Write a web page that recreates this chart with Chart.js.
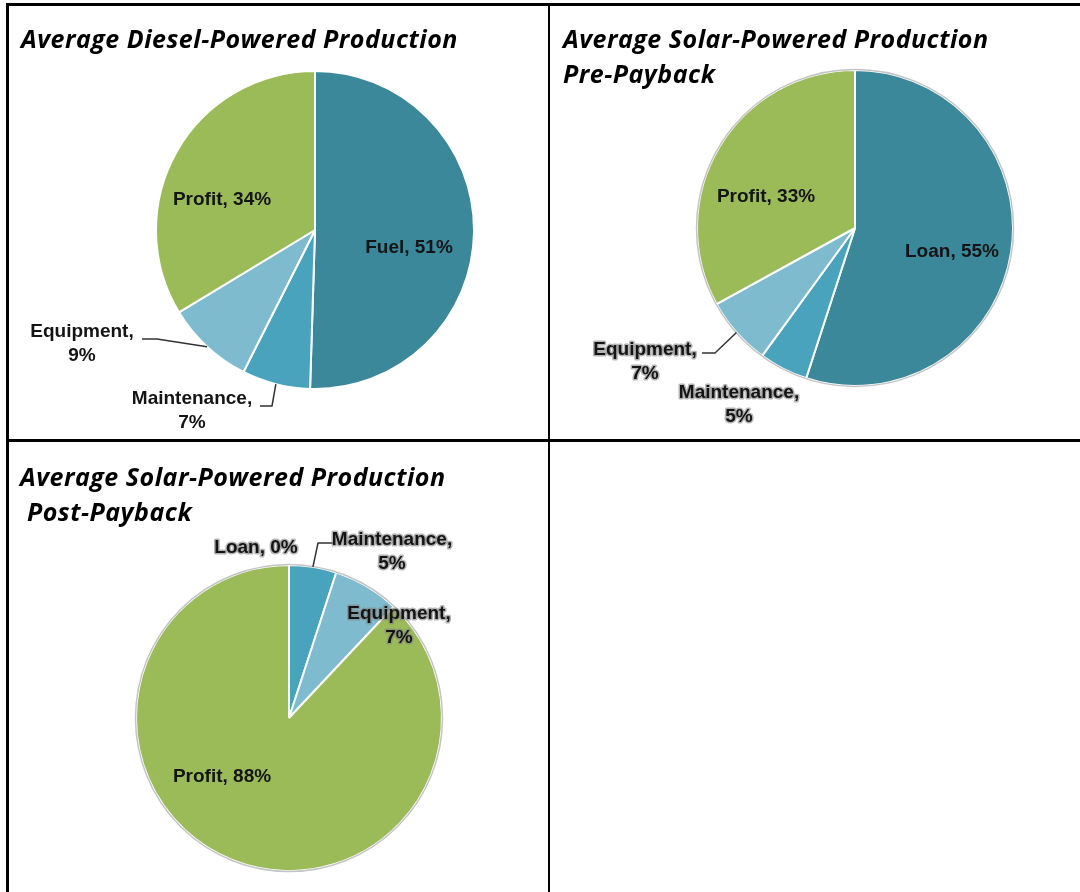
<!DOCTYPE html>
<html>
<head>
<meta charset="utf-8">
<script src="https://cdn.jsdelivr.net/npm/chart.js@4.4.1/dist/chart.umd.min.js"></script>
<style>
  html, body { margin: 0; padding: 0; background: #fff; }
  #page { position: relative; width: 1080px; height: 892px; overflow: hidden; background: #fff; }
  .rule { position: absolute; background: #000; }
  .cell { position: absolute; }
  .cell canvas { position: absolute; left: 0; top: 0; }
  .title {
    position: absolute; z-index: 2; white-space: pre; color: #000;
    font-family: "Open Sans", Lato, sans-serif; font-weight: 700; font-style: italic;
    font-size: 25px; line-height: 35px; letter-spacing: 0.5px;
  }
</style>
</head>
<body>
<div id="page">
  <div class="cell" style="left:9px;top:6px"><canvas id="dieselPie" width="539" height="433"></canvas></div>
  <div class="cell" style="left:551px;top:6px"><canvas id="prePie" width="529" height="433"></canvas></div>
  <div class="cell" style="left:9px;top:442px"><canvas id="postPie" width="539" height="450"></canvas></div>

  <div class="title" style="left:21px;top:21px">Average Diesel-Powered Production</div>
  <div class="title" style="left:563px;top:21px">Average Solar-Powered Production
Pre-Payback</div>
  <div class="title" style="left:20px;top:459px">Average Solar-Powered Production
 Post-Payback</div>

  <!-- table rules -->
  <div class="rule" style="left:6px;top:3px;width:1074px;height:3px"></div>
  <div class="rule" style="left:6px;top:3px;width:3px;height:889px"></div>
  <div class="rule" style="left:548px;top:3px;width:2px;height:889px"></div>
  <div class="rule" style="left:6px;top:439px;width:1074px;height:3px"></div>
</div>

<script>
// Данные трёх диаграмм (доли, %)
const dieselNames = ['Fuel', 'Maintenance', 'Equipment', 'Profit'];
const dieselShares = [51, 7, 9, 34];

const preNames = ['Loan', 'Maintenance', 'Equipment', 'Profit'];
const preShares = [55, 5, 7, 33];

const postNames = ['Loan', 'Maintenance', 'Equipment', 'Profit'];
const postShares = [0, 5, 7, 88];

const sliceColors = {
  Fuel: '#3b889b',
  Loan: '#3b889b',
  Maintenance: '#4aa3bc',
  Equipment: '#7fbbce',
  Profit: '#9bbb59',
};

// где стоят подписи: смещение от центра круга, px; leader — изгиб выноски
const dieselPlaces = [
  { dx: 94, dy: 18 },
  { dx: -123, dy: 181, wrap: true, leader: [[-55, 176], [-43, 176]] },
  { dx: -233, dy: 114, wrap: true, leader: [[-173, 109], [-158, 109]] },
  { dx: -93, dy: -30 },
];
const prePlaces = [
  { dx: 97, dy: 24 },
  { dx: -116, dy: 177, wrap: true, halo: true },
  { dx: -210, dy: 134, wrap: true, halo: true, leader: [[-153, 125], [-140, 125]] },
  { dx: -89, dy: -31 },
];
const postPlaces = [
  { dx: -33, dy: -170, halo: true },
  { dx: 103, dy: -166, wrap: true, halo: true, leader: [[44, -175], [29, -175]] },
  { dx: 110, dy: -92, wrap: true, halo: true },
  { dx: -67, dy: 59 },
];

function sliceLabelPlugin(names, shares, places, outline) {
  return {
    id: 'sliceLabels',
    afterDatasetsDraw(chart) {
      const ctx = chart.ctx;
      const arcs = chart.getDatasetMeta(0).data;
      ctx.save();

      if (outline) {
        const a = arcs[0].getProps(['x', 'y', 'outerRadius'], true);
        ctx.beginPath();
        ctx.arc(a.x, a.y, a.outerRadius + 0.5, 0, Math.PI * 2);
        ctx.strokeStyle = outline;
        ctx.lineWidth = 1.5;
        ctx.stroke();
      }

      ctx.font = 'bold 19px "Liberation Sans", Arial, sans-serif';
      ctx.textAlign = 'center';
      ctx.textBaseline = 'middle';
      ctx.lineJoin = 'round';

      arcs.forEach((arc, i) => {
        const p = places[i];
        const { x, y, startAngle, endAngle, outerRadius } =
          arc.getProps(['x', 'y', 'startAngle', 'endAngle', 'outerRadius'], true);
        const mid = (startAngle + endAngle) / 2;

        if (p.leader) {
          ctx.beginPath();
          ctx.moveTo(x + p.leader[0][0], y + p.leader[0][1]);
          p.leader.slice(1).forEach(pt => ctx.lineTo(x + pt[0], y + pt[1]));
          ctx.lineTo(x + Math.cos(mid) * outerRadius, y + Math.sin(mid) * outerRadius);
          ctx.strokeStyle = '#333';
          ctx.lineWidth = 1.5;
          ctx.stroke();
        }

        const lines = p.wrap
          ? [names[i] + ',', shares[i] + '%']
          : [names[i] + ', ' + shares[i] + '%'];
        const lh = 24;
        lines.forEach((t, k) => {
          const tx = x + p.dx;
          const ty = y + p.dy + (k - (lines.length - 1) / 2) * lh;
          if (p.halo) {
            ctx.lineWidth = 3;
            ctx.strokeStyle = 'rgba(130,130,130,0.6)';
            ctx.strokeText(t, tx, ty);
          }
          ctx.fillStyle = '#141414';
          ctx.fillText(t, tx, ty);
        });
      });
      ctx.restore();
    },
  };
}

// отступы, чтобы круг встал в нужное место ячейки
function padFor(canvas, cx, cy, r) {
  const cell = canvas.parentElement;
  const left = cell.offsetLeft, top = cell.offsetTop;
  const side = r + 1;
  return {
    left: cx - side - left,
    top: cy - side - top,
    right: left + canvas.width - (cx + side),
    bottom: top + canvas.height - (cy + side),
  };
}

function makePie(id, names, shares, places, outline, cx, cy, r) {
  const canvas = document.getElementById(id);
  new Chart(canvas, {
    type: 'pie',
    data: {
      labels: names,
      datasets: [{
        data: shares,
        backgroundColor: names.map(n => sliceColors[n]),
        borderColor: '#ffffff',
        borderWidth: 2,
        hoverOffset: 0,
      }],
    },
    options: {
      responsive: false,
      animation: false,
      layout: { padding: padFor(canvas, cx, cy, r) },
      plugins: {
        legend: { display: false },
        tooltip: { enabled: false },
      },
    },
    plugins: [sliceLabelPlugin(names, shares, places, outline)],
  });
}

makePie('dieselPie', dieselNames, dieselShares, dieselPlaces, null, 315, 230, 159);
makePie('prePie', preNames, preShares, prePlaces, '#c4c4c4', 855, 228, 158);
makePie('postPie', postNames, postShares, postPlaces, '#c4c4c4', 289, 718, 153);
</script>
</body>
</html>
